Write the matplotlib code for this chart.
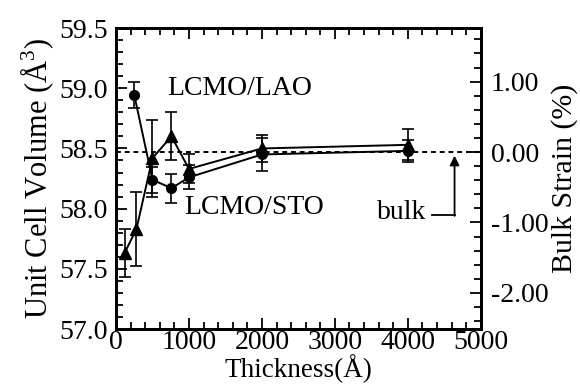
import matplotlib
matplotlib.use("Agg")
import matplotlib.pyplot as plt
from matplotlib.ticker import MultipleLocator, FormatStrFormatter

plt.rcParams.update({
    "font.family": ["Liberation Serif", "DejaVu Serif"],
    "mathtext.fontset": "custom",
    "mathtext.rm": "Liberation Serif",
    "axes.unicode_minus": False,
    "font.size": 20,
})

# bulk unit cell volume (A^3), zero of the strain scale
v_bulk = 58.47

# LCMO on LAO (circles)
t_lao = [250, 500, 760, 1000, 2000, 4000]
v_lao = [58.945, 58.24, 58.17, 58.26, 58.45, 58.48]
e_lao = [0.11, 0.11, 0.12, 0.10, 0.14, 0.09]

# LCMO on STO (triangles)
t_sto = [120, 280, 500, 760, 1000, 2000, 4000]
v_sto = [57.635, 57.83, 58.42, 58.60, 58.33, 58.50, 58.53]
e_sto = [0.20, 0.31, 0.32, 0.20, 0.12, 0.11, 0.13]

fig = plt.figure(figsize=(5.8, 3.84), dpi=100)
ax = fig.add_axes([0.2, 0.143, 0.629, 0.784])

ax.axhline(v_bulk, color="black", ls=(0, (2.5, 2)), lw=1.4, zorder=1)

ax.errorbar(t_lao, v_lao, yerr=e_lao, fmt="-o", color="black", ms=7,
            lw=1.4, elinewidth=1.2, capsize=4, capthick=1.2)
ax.errorbar(t_sto, v_sto, yerr=e_sto, fmt="-^", color="black", ms=8,
            lw=1.4, elinewidth=1.2, capsize=4, capthick=1.2)

ax.set_xlim(0, 5000)
ax.set_ylim(57.0, 59.5)
ax.xaxis.set_major_locator(MultipleLocator(1000))
ax.xaxis.set_minor_locator(MultipleLocator(200))
ax.yaxis.set_major_locator(MultipleLocator(0.5))
ax.yaxis.set_minor_locator(MultipleLocator(0.1))
ax.yaxis.set_major_formatter(FormatStrFormatter("%.1f"))
ax.tick_params(which="both", direction="in", top=True, right=False,
               width=1.3)
ax.tick_params(which="major", length=8)
ax.tick_params(which="minor", length=5)
ax.tick_params(axis="y", pad=6)
ax.tick_params(axis="x", pad=1)
for s in ax.spines.values():
    s.set_linewidth(2)

ax.set_xlabel("Thickness(Å)", fontsize=19.5, labelpad=-1)
ax.set_ylabel("Unit Cell Volume (Å$^3$)", fontsize=22, labelpad=2)

# strain axis on the right
ax2 = ax.twinx()
ax2.set_ylim((57.0 / v_bulk - 1) * 100, (59.5 / v_bulk - 1) * 100)
ax2.yaxis.set_major_locator(MultipleLocator(1.0))
ax2.yaxis.set_minor_locator(MultipleLocator(0.2))
ax2.yaxis.set_major_formatter(FormatStrFormatter("%.2f"))
ax2.tick_params(which="both", direction="in", width=1.3, pad=7)
ax2.tick_params(which="major", length=8)
ax2.tick_params(which="minor", length=5)
for s in ax2.spines.values():
    s.set_linewidth(2)
ax2.set_ylabel("Bulk Strain (%)", fontsize=21.5, labelpad=2)

ax.text(700, 59.0, "LCMO/LAO", va="center", ha="left")
ax.text(940, 58.01, "LCMO/STO", va="center", ha="left")

# bulk marker with bent arrow
ax.text(4260, 57.97, "bulk", va="center", ha="right")
ax.plot([4330, 4640], [57.95, 57.95], color="black", lw=1.3)
ax.annotate("", xy=(4640, 58.44), xytext=(4640, 57.94),
            arrowprops=dict(arrowstyle="-|>", color="black", lw=1.3,
                            mutation_scale=14, shrinkA=0, shrinkB=0))

fig.savefig("out.png", dpi=100)
